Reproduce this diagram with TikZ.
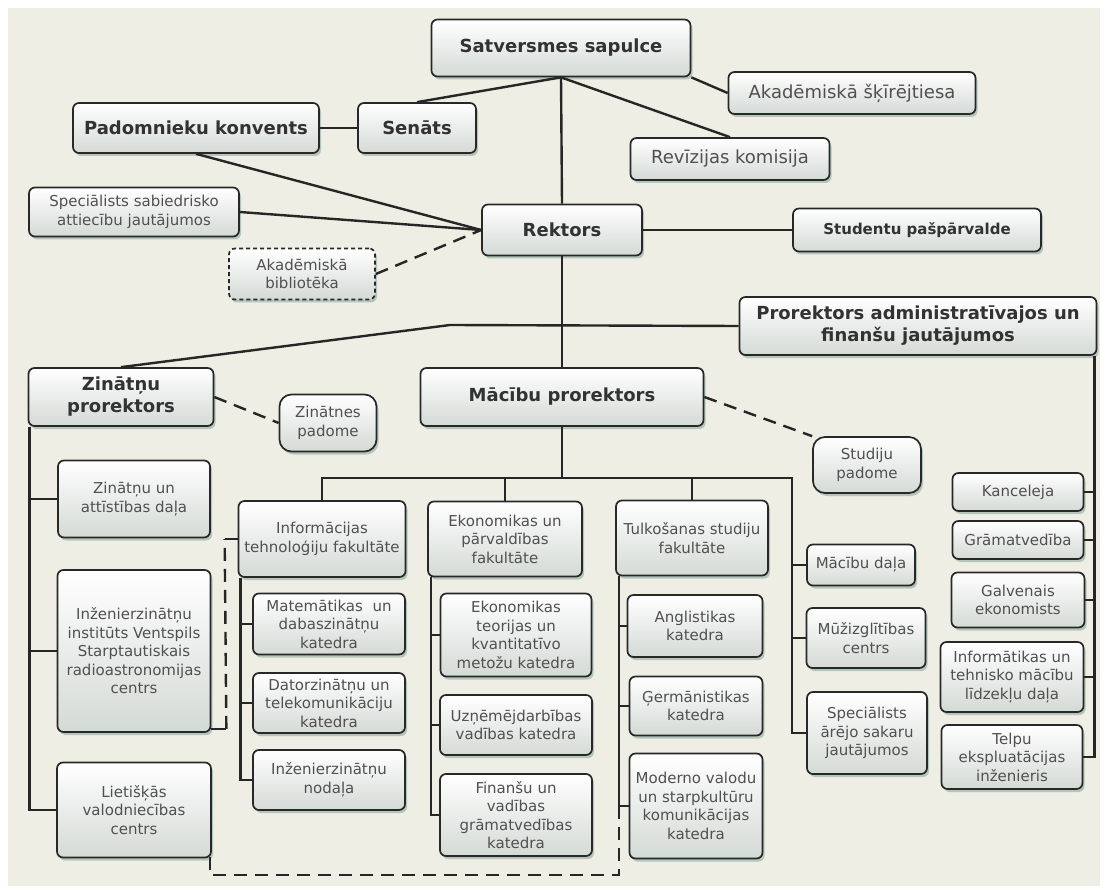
\documentclass[tikz,border=0pt]{standalone}
\usepackage{fontspec}
\setmainfont{DejaVu Sans}
\usepackage{tikz}
\usetikzlibrary{shadows}
\definecolor{bgpanel}{RGB}{239,238,229}
\definecolor{boxline}{RGB}{40,40,40}
\definecolor{boxbot}{RGB}{212,218,214}
\definecolor{shadowc}{RGB}{110,150,140}
\definecolor{txtdark}{RGB}{50,50,50}
\definecolor{txtgray}{RGB}{80,80,80}

\begin{document}
\begin{tikzpicture}[x=1pt, y=-1pt,
  box/.style={draw=boxline, line width=1.7pt, rounded corners=6pt, top color=white, bottom color=boxbot,
              drop shadow={shadow xshift=2pt, shadow yshift=-3pt, fill=shadowc, opacity=0.45},
              align=center, inner sep=1pt, text=txtgray, font=\fontsize{15}{18.5}\selectfont},
  hd/.style={box, text=txtdark, font=\fontsize{18}{22}\selectfont\bfseries},
  mid/.style={box, font=\fontsize{18}{22}\selectfont},
  pad/.style={box, rounded corners=12pt},
  sz/.style 2 args={minimum width=#1pt, minimum height=#2pt},
  ln/.style={line width=2.4pt, black!85},
  dl/.style={ln, dash pattern=on 13pt off 8pt}]
  \useasboundingbox (0,0) rectangle (1105,890);
  \fill[bgpanel] (8,8) rectangle (1100,886);
  % governing bodies
  \node[hd, sz={259}{57}] (sat) at (561,48) {Satversmes sapulce};
  \node[mid, sz={247}{42}] (skt) at (852,93) {Akadēmiskā šķīrējtiesa};
  \node[hd, sz={246}{50}] (pdk) at (196,128) {Padomnieku konvents};
  \node[hd, sz={118}{50}] (sen) at (417,128) {Senāts};
  \node[mid, sz={199}{42}] (rev) at (730,159) {Revīzijas komisija};
  \node[box, sz={210}{49}] (sab) at (134,212) {Speciālists sabiedrisko\\attiecību jautājumos};
  \node[hd, sz={160}{51}] (rek) at (562,230) {Rektors};
  \node[hd, sz={248}{43}, font=\fontsize{15}{18}\selectfont\bfseries] (stu) at (917,230) {Studentu pašpārvalde};
  \node[box, sz={146}{51}, dash pattern=on 4pt off 3pt] (bib) at (302,274) {Akadēmiskā\\bibliotēka};
  % prorectors
  \node[hd, sz={357}{58}] (adm) at (918,326) {Prorektors administratīvajos un\\finanšu jautājumos};
  \node[hd, sz={185}{58}] (zpr) at (121,397) {Zinātņu\\prorektors};
  \node[hd, sz={283}{58}] (mpr) at (562,397) {Mācību prorektors};
  \node[pad, sz={97}{57}] (zpa) at (328,423) {Zinātnes\\padome};
  \node[pad, sz={108}{56}] (spa) at (867,465) {Studiju\\padome};
  % science side
  \node[box, sz={152}{77}] (zad) at (134,499) {Zinātņu un\\attīstības daļa};
  \node[box, sz={153}{162}] (ins) at (134,651) {Inženierzinātņu\\institūts Ventspils\\Starptautiskais\\radioastronomijas\\centrs};
  \node[box, sz={154}{95}] (lie) at (134,810) {Lietišķās\\valodniecības\\centrs};
  % faculties
  \node[box, sz={167}{76}] (itf) at (322,539) {Informācijas\\tehnoloģiju fakultāte};
  \node[box, sz={154}{75}] (epf) at (505,539) {Ekonomikas un\\pārvaldības\\fakultāte};
  \node[box, sz={152}{75}] (tsf) at (692,538) {Tulkošanas studiju\\fakultāte};
  \node[box, sz={152}{61}] (mat) at (329,624) {Matemātikas\ \ un\\dabaszinātņu\\katedra};
  \node[box, sz={152}{60}] (dat) at (329,703) {Datorzinātņu un\\telekomunikāciju\\katedra};
  \node[box, sz={152}{60}] (inn) at (329,780) {Inženierzinātņu\\nodaļa};
  \node[box, sz={151}{83}] (etk) at (516,635) {Ekonomikas\\teorijas un\\kvantitatīvo\\metožu katedra};
  \node[box, sz={152}{60}] (uzn) at (516,725) {Uzņēmējdarbības\\vadības katedra};
  \node[box, sz={152}{82}] (fin) at (516,815) {Finanšu un\\vadības\\grāmatvedības\\katedra};
  \node[box, sz={135}{62}] (ang) at (695,626) {Anglistikas\\katedra};
  \node[box, sz={133}{59}] (ger) at (696,706) {Ģermānistikas\\katedra};
  \node[box, sz={133}{105}] (mod) at (696,806) {Moderno valodu\\un starpkultūru\\komunikācijas\\katedra};
  \node[box, sz={108}{41}] (mda) at (861,565) {Mācību daļa};
  \node[box, sz={119}{60}] (muz) at (866,638) {Mūžizglītības\\centrs};
  \node[box, sz={120}{82}] (arj) at (867,733) {Speciālists\\ārējo sakaru\\jautājumos};
  % administration
  \node[box, sz={131}{38}] (kan) at (1018,492) {Kanceleja};
  \node[box, sz={131}{38}] (gra) at (1018,540) {Grāmatvedība};
  \node[box, sz={133}{55}] (gal) at (1018,600) {Galvenais\\ekonomists};
  \node[box, sz={143}{70}] (inf) at (1012,677) {Informātikas un\\tehnisko mācību\\līdzekļu daļa};
  \node[box, sz={141}{64}] (tel) at (1012,757) {Telpu\\ekspluatācijas\\inženieris};
  % top links
  \draw[ln] (pdk) -- (sen);
  \draw[ln] (sen.north) -- (sat.south);
  \draw[ln] (sat.south) -- (rev.north);
  \draw[ln] (sat.south east) -- (skt.west);
  \draw[ln] (sat.south) -- (rek.north);
  \draw[ln] (pdk.south) -- (rek.west);
  \draw[ln] (sab.east) -- (rek.west);
  \draw[dl] (bib.east) -- (rek.west);
  \draw[ln] (rek) -- (stu);
  % prorector links
  \coordinate (knee) at (450,325);
  \draw[ln] (zpr.north) -- (knee) -- (adm.west);
  \draw[ln] (rek.south) -- (mpr.north);
  \draw[dl] (zpr.east) -- (zpa.west);
  \draw[dl] (mpr.east) -- (spa.north west);
  % science branch
  \coordinate (zl) at ([xshift=2pt]zpr.south west);
  \draw[ln] (zl) |- (lie.west);
  \draw[ln] (zl |- zad.west) -- (zad.west);
  \draw[ln] (zl |- ins.west) -- (ins.west);
  % faculty bus
  \coordinate (bus) at (792,478);
  \draw[ln] (mpr.south) -- (mpr.south |- bus);
  \draw[ln] (itf.north) |- (bus) |- (arj.west);
  \draw[ln] (epf.north) -- (epf.north |- bus);
  \draw[ln] (tsf.north) -- (tsf.north |- bus);
  \draw[ln] (bus |- mda.west) -- (mda.west);
  \draw[ln] (bus |- muz.west) -- (muz.west);
  % departments
  \coordinate (itl) at ([xshift=3pt]itf.south west);
  \draw[ln] (itl) |- (inn.west);
  \draw[ln] (itl |- mat.west) -- (mat.west);
  \draw[ln] (itl |- dat.west) -- (dat.west);
  \coordinate (epl) at ([xshift=4pt]epf.south west);
  \draw[ln] (epl) |- (fin.west);
  \draw[ln] (epl |- etk.west) -- (etk.west);
  \draw[ln] (epl |- uzn.west) -- (uzn.west);
  \coordinate (tsl) at ([xshift=4pt]tsf.south west);
  \draw[ln] (tsl) |- (mod.west);
  \draw[ln] (tsl |- ang.west) -- (ang.west);
  \draw[ln] (tsl |- ger.west) -- (ger.west);
  % administration branch
  \coordinate (adr) at ([xshift=-3pt]adm.south east);
  \draw[ln] (adr) |- (tel.east);
  \draw[ln] (kan.east) -- (kan.east -| adr);
  \draw[ln] (gra.east) -- (gra.east -| adr);
  \draw[ln] (gal.east) -- (gal.east -| adr);
  \draw[ln] (inf.east) -- (inf.east -| adr);
  % dashed links
  \draw[ln] ([yshift=4pt]ins.south east) -- ++(15,0) coordinate (d1);
  \draw[ln] (itf.west) -- ++(-13,0) coordinate (d2);
  \draw[dl] (d1) -- (d2);
  \coordinate (bot) at (0,875);
  \coordinate (lb) at ([xshift=-2pt,yshift=3pt]lie.south east);
  \draw[dl] (tsl |- mod.west) -- (tsl |- bot) -- (lb |- bot) -- (lb);
\end{tikzpicture}
\end{document}
